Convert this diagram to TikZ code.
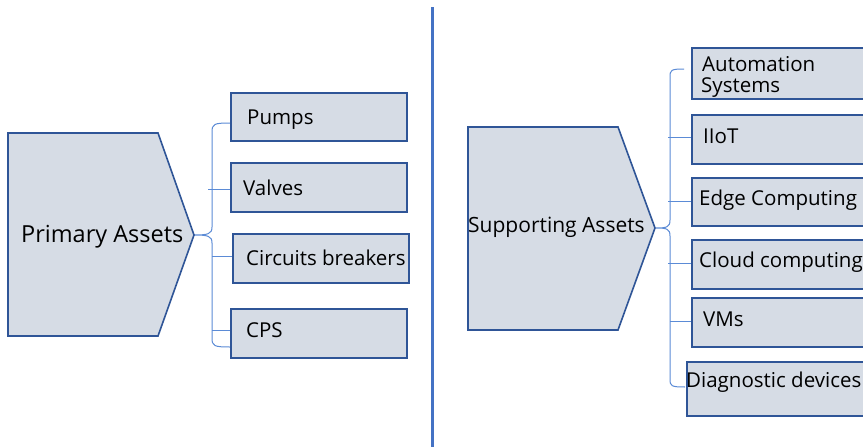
\documentclass[tikz,border=0pt]{standalone}
\usepackage{fontspec}
\setmainfont{Open Sans}
\definecolor{boxfill}{HTML}{D6DCE5}
\definecolor{boxline}{HTML}{2F5597}
\definecolor{braceline}{HTML}{5B8BD6}
\definecolor{divider}{HTML}{4472C4}
\tikzset{
  assetbox/.style={draw=boxline, fill=boxfill, line width=1.6pt, inner sep=0pt, anchor=north west},
  assetshape/.style={draw=boxline, fill=boxfill, line width=1.6pt, line join=miter},
  bracket/.style={draw=braceline, line width=1pt},
  itemtext/.style={anchor=base west, inner sep=0pt, font=\fontsize{20.5}{21}\selectfont},
}
\begin{document}
\begin{tikzpicture}[x=1pt, y=-1pt]
\useasboundingbox (0,0) rectangle (863,447);
\clip (0,0) rectangle (863,447);
\fill[white] (0,0) rectangle (863,447);

% divider between the two groups
\draw[divider, line width=3pt] (432,7) -- (432,447);

% ---------- primary assets ----------
\draw[bracket] (230,123) .. controls (214,123) and (212,124) .. (212,132)
  -- (212,227) .. controls (212,234) and (208,235) .. (194,235)
  .. controls (208,235) and (212,236) .. (212,243)
  -- (212,338) .. controls (212,346) and (214,347) .. (230,347);
\coordinate (tv) at (208,189);
\coordinate (tc) at (212,256);
\coordinate (tp) at (212,330);

\path[assetshape] (8,133) -- (158,133) -- (194,235) -- (158,336) -- (8,336) -- cycle;
\node[anchor=base west, inner sep=0pt, font=\fontsize{23.5}{24}\selectfont] (primary) at (21,242) {Primary Assets};

\node[assetbox, minimum width=176pt, minimum height=48pt] (pumps) at (230,92) {};
\node[assetbox, minimum width=176pt, minimum height=49pt] (valves) at (230,162) {};
\node[assetbox, minimum width=176pt, minimum height=49pt] (breakers) at (232,233) {};
\node[assetbox, minimum width=176pt, minimum height=49pt] (cps) at (230,308) {};

\draw[bracket] (tv) -- (valves.west |- tv);
\draw[bracket] (tc) -- (breakers.west |- tc);
\draw[bracket] (tp) -- (cps.west |- tp);

\node[itemtext] (tpumps) at (247,124) {Pumps};
\node[itemtext] (tvalves) at (243,195) {Valves};
\node[itemtext] (tbreakers) at (246,265) {Circuits breakers};
\node[itemtext] (tcps) at (246,337) {CPS};

% ---------- supporting assets ----------
\draw[bracket] (684,69) .. controls (671,69) and (670,70) .. (670,77)
  -- (670,220) .. controls (670,227) and (667,228) .. (656,228)
  .. controls (667,228) and (670,229) .. (670,236)
  -- (670,379) .. controls (670,386) and (671,387) .. (685,387);
\coordinate (ti) at (668,137);
\coordinate (te) at (668,201);
\coordinate (tcl) at (668,263);
\coordinate (tvm) at (670,321);

\path[assetshape] (468,127) -- (618,127) -- (655,228) -- (618,330) -- (468,330) -- cycle;
\node[anchor=base west, inner sep=0pt, font=\fontsize{21}{22}\selectfont] (supporting) at (468,232) {Supporting Assets};

\node[assetbox, minimum width=200pt, minimum height=51pt] (automation) at (691,47) {};
\node[assetbox, minimum width=200pt, minimum height=49pt] (iiot) at (691,114) {};
\node[assetbox, minimum width=200pt, minimum height=48pt] (edge) at (691,177) {};
\node[assetbox, minimum width=200pt, minimum height=49pt] (cloud) at (691,239) {};
\node[assetbox, minimum width=200pt, minimum height=49pt] (vms) at (691,297) {};
\node[assetbox, minimum width=200pt, minimum height=54pt] (diag) at (686,361) {};

\draw[bracket] (ti) -- (iiot.west |- ti);
\draw[bracket] (te) -- (edge.west |- te);
\draw[bracket] (tcl) -- (cloud.west |- tcl);
\draw[bracket] (tvm) -- (vms.west |- tvm);

\node[itemtext] (tauto1) at (702,71) {Automation};
\node[itemtext] (tauto2) at (701,92) {Systems};
\node[itemtext] (tiiot) at (703,143) {IIoT};
\node[itemtext] (tedge) at (699,205) {Edge Computing};
\node[itemtext] (tcloud) at (699,267) {Cloud computing};
\node[itemtext] (tvms) at (703,326) {VMs};
\node[itemtext] (tdiag) at (686,387) {Diagnostic devices};
\end{tikzpicture}
\end{document}
